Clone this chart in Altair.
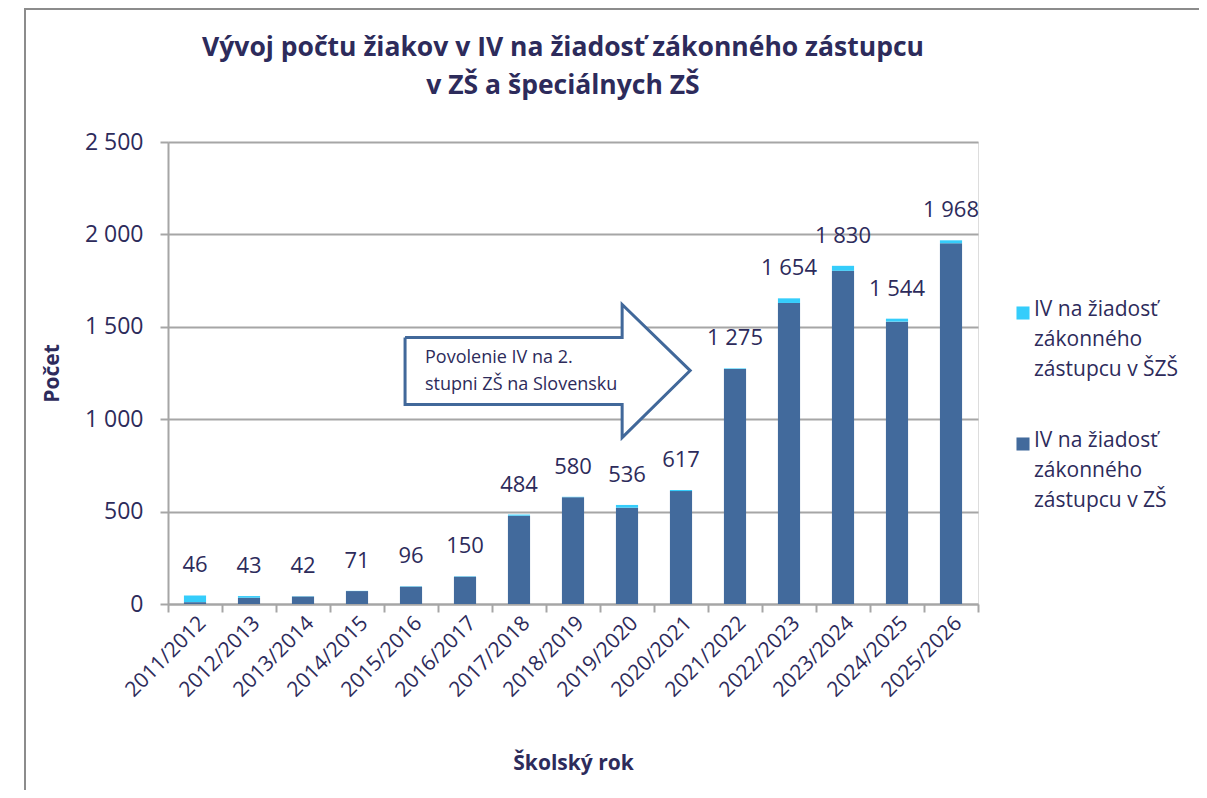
import altair as alt
import pandas as pd

categories = ["2011/2012", "2012/2013", "2013/2014", "2014/2015", "2015/2016",
              "2016/2017", "2017/2018", "2018/2019", "2019/2020", "2020/2021",
              "2021/2022", "2022/2023", "2023/2024", "2024/2025", "2025/2026"]
zs_values = [10, 34, 41, 70, 94, 148, 478, 578, 521, 611, 1272, 1629, 1803, 1528, 1952]
szs_values = [36, 9, 1, 1, 2, 2, 6, 2, 15, 6, 3, 25, 27, 16, 16]
totals = [46, 43, 42, 71, 96, 150, 484, 580, 536, 617, 1275, 1654, 1830, 1544, 1968]

series_keys = ["SZS", "ZS"]
label_szs = ["IV na žiadosť", "zákonného", "zástupcu v ŠZŠ"]
label_zs = ["IV na žiadosť", "zákonného", "zástupcu v ZŠ"]
series_colors = ["#35CDFB", "#426A9C"]

title_lines = ["Vývoj počtu žiakov v IV na žiadosť zákonného zástupcu",
               "v ZŠ a špeciálnych ZŠ"]

# arrow annotation outline (x in category units 0..15, y in count units)
arrow_x = [4.39, 8.41, 8.41, 9.67, 8.41, 8.41, 4.39, 4.39]
arrow_y = [1442, 1442, 1621, 1263, 900, 1079, 1079, 1442]
arrow_text = ["Povolenie IV na 2.", "stupni ZŠ na Slovensku"]

NAVY = "#2D2B5B"
GRID = "#A6A6A6"
FONT = "Open Sans"

rows = []
for c, z, s in zip(categories, zs_values, szs_values):
    rows.append({"rok": c, "serie": "ZS", "hodnota": z, "poradie": 1})
    rows.append({"rok": c, "serie": "SZS", "hodnota": s, "poradie": 2})
bars_df = pd.DataFrame(rows)
tot_df = pd.DataFrame({"rok": categories, "spolu": totals})
arrow_df = pd.DataFrame({"x": arrow_x, "y": arrow_y, "i": list(range(len(arrow_x)))})

xscale = alt.Scale(domain=categories, paddingInner=0.59, paddingOuter=0.295)
yscale = alt.Scale(domain=[0, 2500], nice=False)
qx = alt.Scale(domain=[0, 15], nice=False, zero=False)

bars = alt.Chart(bars_df).mark_bar().encode(
    x=alt.X("rok:N", scale=xscale, sort=categories,
            axis=alt.Axis(title="Školský rok", labelAngle=-45, labelFontSize=21,
                          labelColor=NAVY, labelFont=FONT, ticks=False,
                          domainColor=GRID, domainWidth=2, labelPadding=8,
                          titleFontSize=21, titleFont=FONT, titleColor=NAVY,
                          titleFontWeight="bold", titlePadding=52)),
    y=alt.Y("hodnota:Q", scale=yscale, stack="zero",
            axis=alt.Axis(title="Počet", values=[0, 500, 1000, 1500, 2000, 2500],
                          labelExpr="replace(format(datum.value, ','), ',', ' ')",
                          labelFontSize=23, labelColor=NAVY, labelFont=FONT,
                          tickColor=GRID, tickSize=8, tickWidth=2,
                          domainColor=GRID, domainWidth=2, gridColor=GRID,
                          gridWidth=2, labelPadding=17,
                          titleFontSize=21, titleFont=FONT, titleColor=NAVY,
                          titleFontWeight="bold", titlePadding=22)),
    color=alt.Color("serie:N",
                    scale=alt.Scale(domain=series_keys, range=series_colors),
                    legend=None),
    order=alt.Order("poradie:Q"),
)

labels = alt.Chart(tot_df).transform_calculate(
    lbl="replace(format(datum.spolu, ','), ',', ' ')"
).mark_text(fontSize=22, font=FONT, color=NAVY, baseline="alphabetic", dy=-23).encode(
    x=alt.X("rok:N", scale=xscale, sort=categories, axis=None),
    y=alt.Y("spolu:Q", scale=yscale),
    text="lbl:N",
)

ax = alt.X("x:Q", scale=qx,
           axis=alt.Axis(orient="bottom", values=list(range(16)), labels=False,
                         domain=False, grid=False, ticks=True, tickSize=8,
                         tickColor=GRID, tickWidth=2, title=None))

ticks_layer = alt.Chart(pd.DataFrame({"x": [0, 15], "y": [0, 0]})).mark_point(opacity=0).encode(
    x=ax, y=alt.Y("y:Q", scale=yscale))

head_df = pd.DataFrame({"x": [arrow_x[2], arrow_x[3]],
                        "y": [arrow_y[4], arrow_y[3]],
                        "y2": [arrow_y[2], arrow_y[3]]})
head = alt.Chart(head_df).mark_area(color="white", opacity=1).encode(
    x=alt.X("x:Q", scale=qx, axis=None),
    y=alt.Y("y:Q", scale=yscale), y2="y2:Q")

body_df = pd.DataFrame({"x": [arrow_x[0]], "x2": [arrow_x[1]],
                        "y": [arrow_y[5]], "y2": [arrow_y[0]]})
body = alt.Chart(body_df).mark_rect(color="white").encode(
    x=alt.X("x:Q", scale=qx, axis=None),
    x2="x2:Q", y=alt.Y("y:Q", scale=yscale), y2="y2:Q")

outline = alt.Chart(arrow_df).mark_line(color="#41689A", strokeWidth=3,
                                        strokeJoin="miter").encode(
    x=alt.X("x:Q", scale=qx, axis=None),
    y=alt.Y("y:Q", scale=yscale), order="i:Q")

txt_df = pd.DataFrame({"x": [4.76], "y": [1380], "t": [arrow_text]})
atext = alt.Chart(txt_df).mark_text(align="left", baseline="top", fontSize=18,
                                    font=FONT, color=NAVY, lineHeight=27).encode(
    x=alt.X("x:Q", scale=qx, axis=None),
    y=alt.Y("y:Q", scale=yscale), text="t")

one = alt.Data(values=[{"a": 1}])

frame = alt.Chart(one).mark_rule(color="#8C8C8C", strokeWidth=2).encode(
    x=alt.value(-143), y=alt.value(-133), y2=alt.value(700))
frame_top = alt.Chart(one).mark_rule(color="#8C8C8C", strokeWidth=2).encode(
    x=alt.value(-144), x2=alt.value(1100), y=alt.value(-133))

title = alt.Chart(alt.Data(values=[{"t": title_lines}])).mark_text(
    fontSize=26.5, font=FONT, fontWeight="bold", color=NAVY, lineHeight=38,
    align="center", baseline="top").encode(
    x=alt.value(395), y=alt.value(-107), text="t:N")

leg_sq1 = alt.Chart(one).mark_square(size=170, color=series_colors[0], opacity=1).encode(
    x=alt.value(855), y=alt.value(171))
leg_sq2 = alt.Chart(one).mark_square(size=170, color=series_colors[1], opacity=1).encode(
    x=alt.value(855), y=alt.value(302))
leg_t1 = alt.Chart(alt.Data(values=[{"t": label_szs}])).mark_text(
    fontSize=21, font=FONT, color=NAVY, lineHeight=30, align="left", baseline="top").encode(
    x=alt.value(866), y=alt.value(157), text="t:N")
leg_t2 = alt.Chart(alt.Data(values=[{"t": label_zs}])).mark_text(
    fontSize=21, font=FONT, color=NAVY, lineHeight=30, align="left", baseline="top").encode(
    x=alt.value(866), y=alt.value(288), text="t:N")

chart = alt.layer(
    frame, frame_top, title, bars, labels, ticks_layer, body, head, outline, atext,
    leg_sq1, leg_sq2, leg_t1, leg_t2
).resolve_scale(x="independent").properties(
    width=810, height=462,
    autosize=alt.AutoSizeParams(type="none"),
    padding={"left": 160, "top": 134, "right": 221, "bottom": 186},
).configure_view(stroke=None).configure(background="white")

chart.save("out.html", embed_options={"renderer": "svg", "actions": False})
